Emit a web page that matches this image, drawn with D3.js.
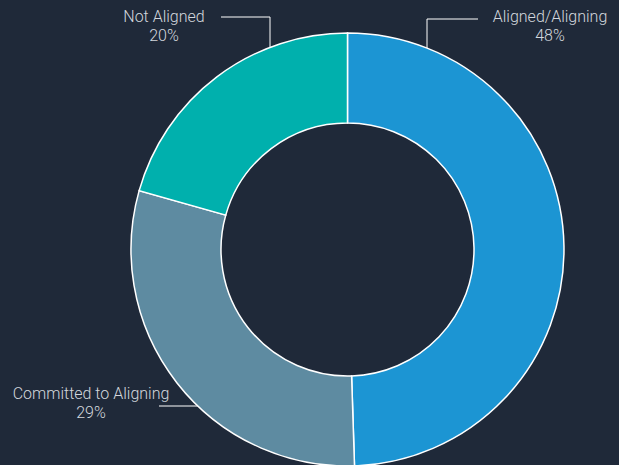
<!DOCTYPE html>
<html lang="en">
<head>
    <meta charset="UTF-8">
    <script src="https://d3js.org/d3.v7.min.js"></script>
    <style>
        body {
            margin: 0;
            padding: 0;
            background-color: #1f2939;
            font-family: 'Roboto', sans-serif;
        }
        svg { display: block; }
        .label {
            fill: #d3d7dd;
            font-size: 16px;
            font-weight: 300;
            text-anchor: middle;
        }
        .leader {
            fill: none;
            stroke: #ffffff;
            stroke-width: 1;
        }
    </style>
</head>
<body>
    <svg id="chart"></svg>

    <script>
        // Data for the chart
        const categories = ["Aligned/Aligning", "Committed to Aligning", "Not Aligned"];
        const values = [48, 29, 20];
        const colors = ["#1c95d3", "#5e8ba1", "#00b0ad"];

        const width = 619;
        const height = 465;
        const cx = 347.5, cy = 249.5;
        const outerR = 216.5, innerR = 126.5;

        // label layout: text centre, leader line y, leader start x, elbow x (null = straight to ring)
        const labelLayout = [
            { x: 550, y: 22, lineY: 19, startX: 478, elbowX: 427 },
            { x: 91, y: 399, lineY: 406, startX: 159, elbowX: null },
            { x: 164, y: 22, lineY: 17, startX: 221, elbowX: 270 }
        ];

        const data = categories.map((c, i) => ({ name: c, value: values[i], color: colors[i] }));

        const svg = d3.select("#chart")
            .attr("width", width)
            .attr("height", height);

        const pie = d3.pie().value(d => d.value).sort(null);
        const arc = d3.arc().innerRadius(innerR).outerRadius(outerR);

        const g = svg.append("g").attr("transform", `translate(${cx},${cy})`);

        g.selectAll("path")
            .data(pie(data))
            .enter()
            .append("path")
            .attr("d", arc)
            .attr("fill", d => d.data.color)
            .attr("stroke", "#ffffff")
            .attr("stroke-width", 1.5);

        // leader lines: horizontal from label, then vertical down to the ring
        labelLayout.forEach((l, i) => {
            let pts;
            if (l.elbowX !== null) {
                const dx = l.elbowX - cx;
                const yEnd = cy - Math.sqrt(outerR * outerR - dx * dx);
                pts = [[l.startX, l.lineY], [l.elbowX, l.lineY], [l.elbowX, yEnd]];
            } else {
                const dy = l.lineY - cy;
                const xEnd = cx - Math.sqrt(outerR * outerR - dy * dy);
                pts = [[l.startX, l.lineY], [xEnd, l.lineY]];
            }
            svg.append("path")
                .attr("class", "leader")
                .attr("d", d3.line()(pts));

            const pct = Math.round(values[i]) + "%";
            const t = svg.append("text")
                .attr("class", "label")
                .attr("x", l.x)
                .attr("y", l.y);
            t.append("tspan").attr("x", l.x).text(categories[i]);
            t.append("tspan").attr("x", l.x).attr("dy", 19).text(pct);
        });
    </script>
</body>
</html>
